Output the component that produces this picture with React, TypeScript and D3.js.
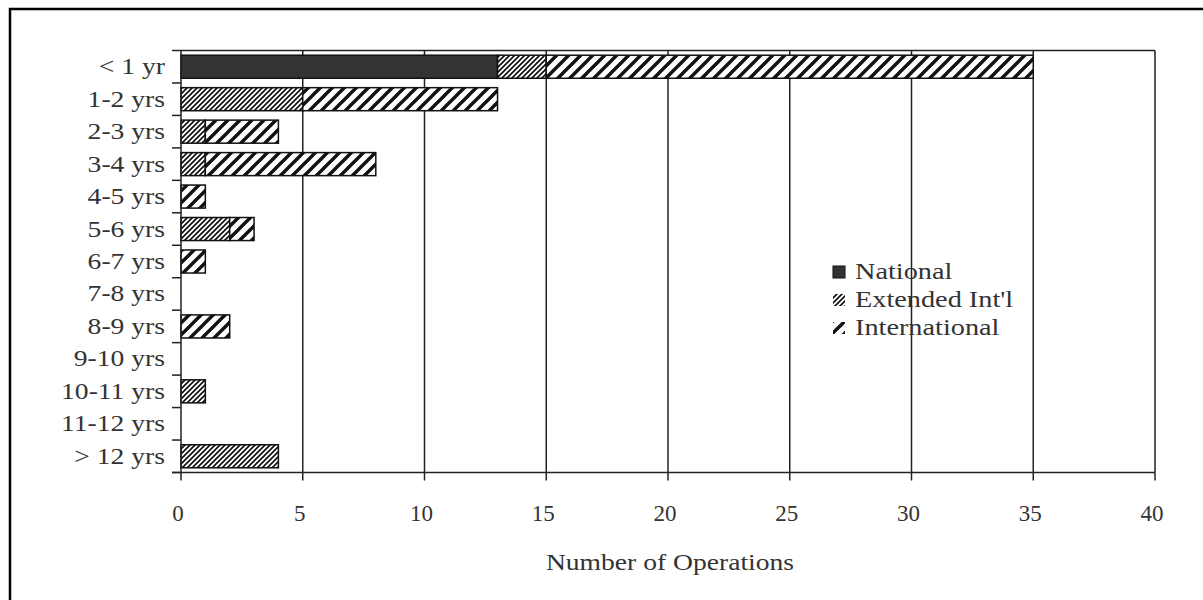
import * as d3 from "d3";

const categories = [
  "< 1 yr",
  "1-2 yrs",
  "2-3 yrs",
  "3-4 yrs",
  "4-5 yrs",
  "5-6 yrs",
  "6-7 yrs",
  "7-8 yrs",
  "8-9 yrs",
  "9-10 yrs",
  "10-11 yrs",
  "11-12 yrs",
  "> 12 yrs",
];
const national = [13, 0, 0, 0, 0, 0, 0, 0, 0, 0, 0, 0, 0];
const extended = [2, 5, 1, 1, 0, 2, 0, 0, 0, 0, 1, 0, 4];
const international = [20, 8, 3, 7, 1, 1, 1, 0, 2, 0, 0, 0, 0];
const seriesNames = ["National", "Extended Int'l", "International"];
const xTicks = [0, 5, 10, 15, 20, 25, 30, 35, 40];

const fills = ["#333333", "url(#extHatch)", "url(#intHatch)"];
const textFont = "'Liberation Serif', serif";
// the original text is drawn wide, so stretch it a little
const stretch = 1.2;

const App = () => {
  const width = 1203;
  const height = 600;
  const left = 181;
  const right = 1155;
  const top = 50.5;
  const bottom = 472.5;

  const x = d3.scaleLinear().domain([0, 40]).range([left, right]);
  const y = d3
    .scaleBand<string>()
    .domain(categories)
    .range([top, bottom])
    .paddingInner(0.29)
    .paddingOuter(0.145);

  const rows = categories.map((c, i) => ({
    cat: c,
    National: national[i],
    "Extended Int'l": extended[i],
    International: international[i],
  }));
  const stacked = d3.stack<any>().keys(seriesNames)(rows);

  const step = y.step();
  const boundaries = d3.range(categories.length + 1).map((i) => top + i * step);

  return (
    <svg
      width={width}
      height={height}
      style={{ position: "fixed", left: 0, top: 0, background: "#fff" }}
    >
      <defs>
        <pattern id="extHatch" patternUnits="userSpaceOnUse" width={5} height={5}>
          <rect width={5} height={5} fill="#fff" />
          <path
            d="M-1,1 l2,-2 M0,5 l5,-5 M4,6 l2,-2"
            stroke="#111"
            strokeWidth={1.7}
          />
        </pattern>
        <pattern id="intHatch" patternUnits="userSpaceOnUse" width={12} height={12}>
          <rect width={12} height={12} fill="#fff" />
          <path
            d="M-3,3 l6,-6 M0,12 l12,-12 M9,15 l6,-6"
            stroke="#111"
            strokeWidth={3.4}
          />
        </pattern>
      </defs>

      <rect x={10} y={9} width={1200} height={600} fill="none" stroke="#000" strokeWidth={2.5} />

      {/* grid lines and plot frame */}
      {xTicks.slice(1).map((t) => (
        <line key={t} x1={x(t)} x2={x(t)} y1={top} y2={bottom} stroke="#222" strokeWidth={1.5} />
      ))}
      <line x1={left} x2={right} y1={top} y2={top} stroke="#222" strokeWidth={1.5} />

      {/* bars */}
      {stacked.map((s, si) => (
        <g key={s.key}>
          {s.map((d, i) =>
            d[1] - d[0] > 0 ? (
              <rect
                key={i}
                x={x(d[0])}
                y={y(categories[i])}
                width={x(d[1]) - x(d[0])}
                height={y.bandwidth()}
                fill={fills[si]}
                stroke="#111"
                strokeWidth={1.5}
              />
            ) : null
          )}
        </g>
      ))}

      {/* y axis */}
      <line x1={left} x2={left} y1={top} y2={bottom} stroke="#222" strokeWidth={1.5} />
      {boundaries.map((b, i) => (
        <line key={i} x1={left - 9} x2={left} y1={b} y2={b} stroke="#222" strokeWidth={1.5} />
      ))}
      {categories.map((c) => (
        <text
          key={c}
          transform={`translate(165, ${(y(c) as number) + y.bandwidth() / 2 + 7.5}) scale(${stretch}, 1)`}
          textAnchor="end"
          fontFamily={textFont}
          fontSize={23}
          fill="#333"
        >
          {c}
        </text>
      ))}

      {/* x axis */}
      <line x1={left - 9} x2={right} y1={bottom} y2={bottom} stroke="#222" strokeWidth={1.5} />
      {xTicks.map((t) => (
        <g key={t}>
          <line x1={x(t)} x2={x(t)} y1={bottom} y2={bottom + 8} stroke="#222" strokeWidth={1.5} />
          <text
            x={x(t) - 3}
            y={521}
            textAnchor="middle"
            fontFamily={textFont}
            fontSize={23}
            fill="#333"
          >
            {t}
          </text>
        </g>
      ))}
      <text
        transform={`translate(${(left + right) / 2 + 2}, 570) scale(${stretch}, 1)`}
        textAnchor="middle"
        fontFamily={textFont}
        fontSize={23}
        fill="#333"
      >
        Number of Operations
      </text>

      {/* legend */}
      {seriesNames.map((n, i) => (
        <g key={n} transform={`translate(833, ${265 + i * 28})`}>
          {i === 0 ? (
            <rect x={0} y={1} width={12} height={12} fill="#333" stroke="#111" strokeWidth={1} />
          ) : (
            <rect x={0} y={1} width={12} height={12} fill={fills[i]} />
          )}
          <text
            transform={`translate(22, 14) scale(1.23, 1)`}
            fontFamily={textFont}
            fontSize={23}
            fill="#333"
          >
            {n}
          </text>
        </g>
      ))}
    </svg>
  );
};

export default App;
